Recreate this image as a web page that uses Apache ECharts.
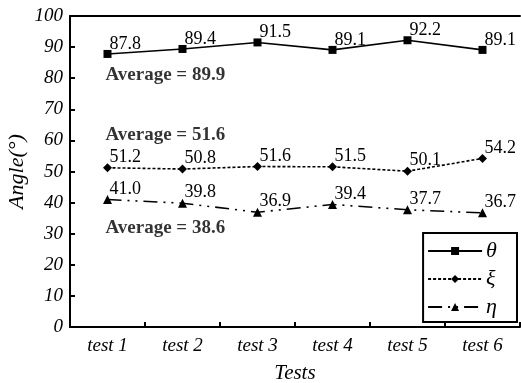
<!DOCTYPE html>
<html>
<head>
<meta charset="utf-8">
<script src="https://cdn.jsdelivr.net/npm/echarts@6/dist/echarts.min.js"></script>
<style>
html,body{margin:0;padding:0;background:#fff;}
#c{width:521px;height:383px;}
</style>
</head>
<body>
<div id="c"></div>
<script>
var categories = ['test 1','test 2','test 3','test 4','test 5','test 6'];
var theta = [87.8, 89.4, 91.5, 89.1, 92.2, 89.1];
var xi = [51.2, 50.8, 51.6, 51.5, 50.1, 54.2];
var eta = [41.0, 39.8, 36.9, 39.4, 37.7, 36.7];
var averages = [
  ['test 1', 81.0, 'Average = 89.9'],
  ['test 1', 61.7, 'Average = 51.6'],
  ['test 1', 31.8, 'Average = 38.6']
];
var seriesNames = ['\u03b8', '\u03be', '\u03b7'];

var serif = '"Liberation Serif", "DejaVu Serif", serif';
var chart = echarts.init(document.getElementById('c'));

function dataLabel() {
  return {
    show: true, position: 'top', align: 'left', distance: 0, offset: [2, 3],
    fontFamily: serif, fontSize: 18, color: '#000',
    formatter: function(p){ return p.value.toFixed(1); }
  };
}

chart.setOption({
  animation: false,
  backgroundColor: '#fff',
  grid: {left: 70, right: 1, top: 16, bottom: 56, outerBoundsMode: 'none', containLabel: false},
  legend: {
    data: seriesNames,
    orient: 'vertical',
    right: 4, top: 233,
    padding: [7, 20, 4, 4],
    itemWidth: 54, itemHeight: 10, itemGap: 6,
    borderColor: '#000', borderWidth: 2, borderRadius: 0,
    backgroundColor: '#fff',
    textStyle: {fontFamily: serif, fontStyle: 'italic', fontSize: 22, color: '#000', padding: [0,0,0,-1]}
  },
  xAxis: [{
    type: 'category', data: categories, boundaryGap: true,
    name: 'Tests', nameLocation: 'middle', nameGap: 36, nameMoveOverlap: false,
    nameTextStyle: {fontFamily: serif, fontStyle: 'italic', fontSize: 21, color: '#000'},
    axisLine: {lineStyle: {color: '#000', width: 2}},
    axisTick: {show: true, inside: true, length: 5, lineStyle: {color: '#000', width: 2}},
    axisLabel: {fontFamily: serif, fontStyle: 'italic', fontSize: 19, color: '#000', margin: 9},
    splitLine: {show: false}
  }, {
    type: 'category', data: categories, position: 'top',
    axisLine: {show: true, lineStyle: {color: '#000', width: 2}},
    axisTick: {show: false}, axisLabel: {show: false}, splitLine: {show: false}
  }],
  yAxis: {
    type: 'value', min: 0, max: 100, interval: 10,
    name: 'Angle(\u00b0)', nameLocation: 'middle', nameGap: 42, nameRotate: 90, nameMoveOverlap: false,
    nameTextStyle: {fontFamily: serif, fontStyle: 'italic', fontSize: 22, color: '#000'},
    axisLine: {show: true, lineStyle: {color: '#000', width: 2}},
    axisTick: {show: true, inside: true, length: 5, lineStyle: {color: '#000', width: 2}},
    axisLabel: {fontFamily: serif, fontStyle: 'italic', fontSize: 19, color: '#000', margin: 7},
    splitLine: {show: false}
  },
  series: [{
    name: seriesNames[0], type: 'line', data: theta,
    symbol: 'rect', symbolSize: 8,
    itemStyle: {color: '#000'},
    lineStyle: {color: '#000', width: 1.6, type: 'solid'},
    label: dataLabel()
  }, {
    name: seriesNames[1], type: 'line', data: xi,
    symbol: 'diamond', symbolSize: 9,
    itemStyle: {color: '#000'},
    lineStyle: {color: '#000', width: 1.6, type: [3, 2]},
    label: dataLabel()
  }, {
    name: seriesNames[2], type: 'line', data: eta,
    symbol: 'triangle', symbolSize: 9,
    itemStyle: {color: '#000'},
    lineStyle: {color: '#000', width: 1.6, type: [14, 6, 2, 6, 2, 6]},
    label: dataLabel()
  }, {
    name: 'avg', type: 'scatter', symbolSize: 0,
    data: averages.map(function(a){ return [a[0], a[1], a[2]]; }),
    label: {
      show: true, position: 'right', distance: 0, offset: [-2, 0],
      fontFamily: serif, fontWeight: 'bold', fontSize: 19, color: '#000',
      formatter: function(p){ return p.value[2]; }
    },
    silent: true, z: 5
  }]
});
</script>
</body>
</html>
